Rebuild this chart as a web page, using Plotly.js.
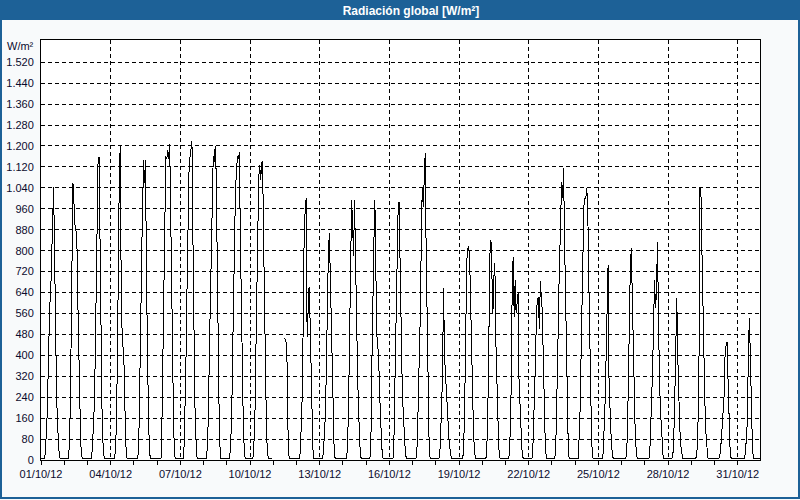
<!DOCTYPE html>
<html>
<head>
<meta charset="utf-8">
<script src="https://cdn.plot.ly/plotly-3.0.1.min.js"></script>
<style>
html,body{margin:0;padding:0;background:#f8fafb;}
#chart{width:800px;height:500px;}
#chart path.js-line{shape-rendering:crispEdges;}
</style>
</head>
<body>
<div id="chart"></div>
<script>
// ---- data ----
const dayDates = ['2012-10-01','2012-10-02','2012-10-03','2012-10-04','2012-10-05','2012-10-06','2012-10-07','2012-10-08','2012-10-09','2012-10-10','2012-10-11','2012-10-12','2012-10-13','2012-10-14','2012-10-15','2012-10-16','2012-10-17','2012-10-18','2012-10-19','2012-10-20','2012-10-21','2012-10-22','2012-10-23','2012-10-24','2012-10-25','2012-10-26','2012-10-27','2012-10-28','2012-10-29','2012-10-30','2012-10-31'];
// daylight hours for which a value is recorded in each day list
const dayHours = [4,5,6,7,8,9,10,11,12,13,14,15,16,17,18,19,20];
// value outside those hours (night)
const nightValue = 5;
// period without data
const gapStart = '2012-10-11 00:00';
const gapEnd = '2012-10-11 11:59';

const d01 = [10,70,130,270,470,590,637,796,960,1042,800,440,270,140,45,10,5];
const d02 = [5,40,160,420,700,1060,990,900,880,860,620,380,190,70,15,5,5];
const d03 = [5,40,100,200,380,700,1040,1150,1157,800,450,200,70,15,5,5,5];
const d04 = [5,40,150,400,780,1116,1204,560,480,420,350,150,30,5,5,5,5];
const d05 = [5,60,230,500,780,1000,1147,1060,1147,700,380,180,40,5,5,5,5];
const d06 = [5,150,400,660,900,1160,1150,1185,1150,1208,950,662,280,140,20,5,5];
const d07 = [60,220,420,680,920,1108,1160,1185,1217,850,470,217,90,15,5,5,5];
const d08 = [60,170,420,650,850,1050,1160,1140,1198,1100,750,420,200,50,5,5,5];
const d09 = [70,150,400,640,880,1040,1100,1160,1150,1175,850,600,350,150,40,5,5];
const d10 = [60,150,400,660,880,1080,1128,1070,1134,1144,850,560,300,110,30,5,5];
const d11 = [null,null,null,null,null,null,null,null,466,455,440,150,20,5,5,5,5];
const d12 = [30,120,250,535,880,950,1000,470,560,662,540,330,150,40,5,5,5];
const d13 = [40,100,180,380,640,800,866,700,500,300,150,30,5,5,5,5,5];
const d14 = [10,80,250,500,800,994,900,780,994,740,535,360,200,100,20,5,5];
const d15 = [10,100,380,680,830,994,790,480,440,380,250,140,60,10,5,5,5];
const d16 = [10,120,350,600,830,950,987,700,540,340,210,110,60,15,5,5,5];
const d17 = [10,80,250,400,560,850,1045,968,1108,1172,800,560,300,80,10,5,5];
const d18 = [10,100,200,350,656,400,318,230,170,120,60,25,8,5,5,5,5];
const d19 = [10,80,250,480,760,810,815,760,560,350,190,100,30,5,5,5,5];
const d20 = [10,80,250,560,790,841,620,560,700,752,459,330,150,50,10,5,5];
const d21 = [20,120,300,700,777,548,688,560,600,637,300,190,100,40,10,5,5];
const d22 = [10,120,260,380,560,618,620,500,682,640,570,400,217,76,15,5,5];
const d23 = [60,200,400,630,790,980,1064,1000,1115,850,600,350,150,20,5,5,5];
const d24 = [80,180,380,620,780,970,1000,1000,1038,968,700,450,230,80,10,5,5];
const d25 = [5,30,110,230,400,560,745,300,180,100,40,10,5,5,5,5,5];
const d26 = [5,15,100,300,560,740,809,600,400,230,110,40,8,5,5,5,5];
const d27 = [5,15,100,230,344,480,688,580,640,834,484,330,200,115,30,5,5];
const d28 = [5,20,100,250,480,618,400,220,130,60,20,5,5,5,5,5,5];
const d29 = [5,10,40,150,400,1038,1013,800,560,400,230,110,40,10,5,5,5];
const d30 = [5,8,30,76,150,217,250,420,446,452,300,130,50,10,5,5,5];
const d31 = [5,5,5,5,30,76,150,420,541,400,217,76,10,5,5,5,5];

const xTickVals = ['2012-10-01','2012-10-04','2012-10-07','2012-10-10','2012-10-13','2012-10-16','2012-10-19','2012-10-22','2012-10-25','2012-10-28','2012-10-31'];
const xTickText = ['01/10/12','04/10/12','07/10/12','10/10/12','13/10/12','16/10/12','19/10/12','22/10/12','25/10/12','28/10/12','31/10/12'];
const yTickVals = [0,80,160,240,320,400,480,560,640,720,800,880,960,1040,1120,1200,1280,1360,1440,1520];
const yTickText = ['0','80','160','240','320','400','480','560','640','720','800','880','960','1.040','1.120','1.200','1.280','1.360','1.440','1.520'];

// ---- build series ----
const dayValues = [d01,d02,d03,d04,d05,d06,d07,d08,d09,d10,d11,d12,d13,d14,d15,d16,d17,d18,d19,d20,d21,d22,d23,d24,d25,d26,d27,d28,d29,d30,d31];
const xs = [], ys = [];
dayDates.forEach((d, i) => {
  for (let h = 0; h < 24; h++) {
    const t = d + ' ' + String(h).padStart(2, '0') + ':00';
    const k = dayHours.indexOf(h);
    let v = k >= 0 ? dayValues[i][k] : nightValue;
    if (t >= gapStart && t <= gapEnd) v = null;
    xs.push(t); ys.push(v);
  }
});

// ---- layout geometry (plot area 41..760 x 40..460) ----
const L = 41, R = 760, T = 40, B = 460, W = 800, H = 500;
const px = v => (v - L) / (R - L);
const py = v => (B - v) / (B - T);

const fontFam = 'Liberation Sans, Arial, sans-serif';
const txtColor = '#0b0b2e';
const blue = '#1d6197';

const layout = {
  width: W, height: H,
  margin: {l: L, r: W - R, t: T, b: H - B, pad: 0},
  paper_bgcolor: '#f8fafb',
  plot_bgcolor: '#ffffff',
  showlegend: false,
  font: {family: fontFam, size: 11, color: txtColor},
  title: {
    text: 'Radiación global [W/m²]',
    font: {family: fontFam, size: 12, color: '#ffffff', weight: 'bold'},
    xref: 'container', x: 411 / W, xanchor: 'center',
    yref: 'container', y: 1 - 10.5 / H, yanchor: 'middle'
  },
  xaxis: {
    type: 'date',
    range: ['2012-10-01 00:00', '2012-10-31 23:00'],
    tickmode: 'array', tickvals: xTickVals, ticktext: xTickText,
    ticks: 'outside', ticklen: 4, tickcolor: '#000', tickwidth: 1,
    minor: {dtick: 86400000, tick0: '2012-10-01', ticks: 'outside', ticklen: 4, tickcolor: '#000', showgrid: false},
    showgrid: true, gridcolor: '#000', gridwidth: 1, griddash: '4px,3px',
    showline: true, mirror: true, linecolor: '#000', linewidth: 1,
    zeroline: false, fixedrange: true,
    tickfont: {family: fontFam, size: 11, color: txtColor}
  },
  yaxis: {
    range: [0, 1605],
    tickmode: 'array', tickvals: yTickVals, ticktext: yTickText,
    ticks: '', ticklabelstandoff: 4,
    showgrid: true, gridcolor: '#000', gridwidth: 1, griddash: '4px,3px',
    showline: true, mirror: true, linecolor: '#000', linewidth: 1,
    zeroline: false, fixedrange: true,
    tickfont: {family: fontFam, size: 11, color: txtColor}
  },
  shapes: [
    {type: 'rect', xref: 'paper', yref: 'paper', layer: 'below',
     x0: px(0), x1: px(W), y0: py(20), y1: py(0),
     fillcolor: blue, line: {width: 0}},
    {type: 'rect', xref: 'paper', yref: 'paper', layer: 'below',
     x0: px(1), x1: px(799), y0: py(498), y1: py(1),
     fillcolor: 'rgba(0,0,0,0)', line: {color: blue, width: 2}}
  ],
  annotations: [
    {text: 'W/m²', xref: 'paper', yref: 'paper', x: px(36), y: py(46),
     xanchor: 'right', yanchor: 'middle', showarrow: false,
     font: {family: fontFam, size: 11, color: txtColor}}
  ]
};

const trace = {
  type: 'scatter', mode: 'lines', x: xs, y: ys,
  line: {color: '#000000', width: 1},
  connectgaps: false, hoverinfo: 'skip'
};

Plotly.newPlot('chart', [trace], layout, {displayModeBar: false, staticPlot: true});
</script>
</body>
</html>
